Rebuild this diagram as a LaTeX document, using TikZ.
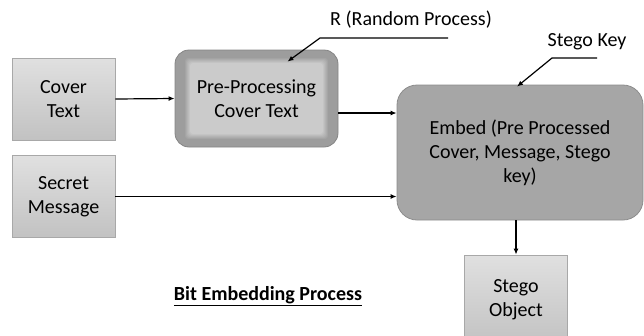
\documentclass[tikz,border=0pt]{standalone}
\usepackage{fontspec}
\setmainfont{Carlito}
\usepackage{tikz}
\usetikzlibrary{arrows.meta, positioning}
\definecolor{boxtop}{HTML}{E0E0E0}
\definecolor{boxbot}{HTML}{C2C2C2}
\definecolor{boxline}{HTML}{A8A8A8}
\definecolor{preout}{HTML}{9D9D9D}
\definecolor{prein}{HTML}{CBCBCB}
\definecolor{embfill}{HTML}{A6A6A6}
\definecolor{embline}{HTML}{8C8C8C}

\begin{document}
\begin{tikzpicture}[
    x=1pt, y=-1pt,
    font=\fontsize{20}{24}\selectfont,
    inbox/.style={
        draw=boxline,
        line width=0.8pt,
        top color=boxtop,
        bottom color=boxbot,
        minimum width=103pt,
        minimum height=82pt,
        align=center
    },
    prebox/.style={
        draw=preout!85!black,
        line width=0.8pt,
        fill=preout,
        rounded corners=14pt,
        minimum width=163pt,
        minimum height=97pt,
        align=center,
        path picture={
            \foreach \i [evaluate=\i as \pct using int(\i*100/6)] in {0,...,6}
                \fill[prein!\pct!preout, rounded corners=3pt]
                    ([shift={(9pt+\i pt,-7pt-\i pt)}]path picture bounding box.north west) rectangle
                    ([shift={(-9pt-\i pt,7pt+\i pt)}]path picture bounding box.south east);
        }
    },
    embbox/.style={
        draw=embline,
        line width=0.8pt,
        fill=embfill,
        rounded corners=20pt,
        minimum width=246pt,
        minimum height=135pt,
        align=center
    },
    arrow/.style={
        ->,
        >={Latex[length=6pt,width=5pt]},
        line width=1.2pt,
        black
    }
]

\path[use as bounding box, clip] (0,0) rectangle (644,335);

% Input boxes
\node[inbox] (cover) at (63.5,99) {Cover\\Text};
\node[inbox] (secret) at (63.5,196.5) {Secret\\Message};

% Processing
\node[prebox] (pre) at (256.5,98.5) {Pre-Processing\\Cover Text};
\node[embbox] (embed) at (520,152.5) {Embed (Pre Processed\\Cover, Message, Stego\\key)};

% Output
\node[inbox, minimum height=90pt] (stego) at (516,300) {Stego\\Object};

% Labels
\node (rlabel) at (411,20) {R (Random Process)};
\node (keylabel) at (587,42) {Stego Key};
\node[font=\fontsize{20}{24}\selectfont\bfseries] (title) at (268,296) {\underline{Bit Embedding Process}};

\coordinate (rend) at (448,38);
\coordinate (rbend) at (320,38);
\coordinate (kend) at (597,58);
\coordinate (kbend) at (552,58);

% Connectors
\draw[arrow] (cover.east) -- (pre.west);
\draw[arrow] ([yshift=-14.5pt]pre.east) -- ([yshift=-14.5pt]pre.east -| embed.west);
\draw[arrow] (secret.east) -- (secret.east -| embed.west);
\draw[arrow] (stego.north |- embed.south) -- (stego.north);
\draw[arrow] (rend) -- (rbend) -- ([xshift=31pt,yshift=-12pt]pre.north);
\draw[arrow] (kend) -- (kbend) -- ([xshift=-3pt,yshift=-2pt]embed.north);

\end{tikzpicture}
\end{document}
